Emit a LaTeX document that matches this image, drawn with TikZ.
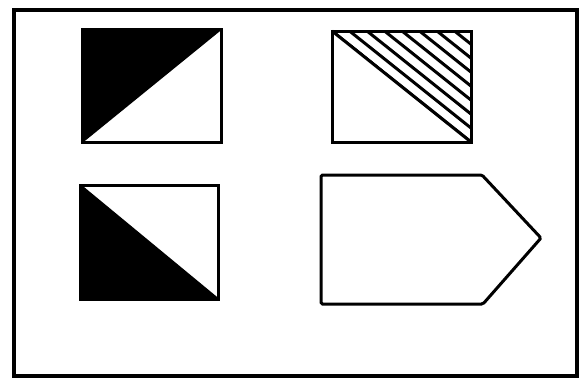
\documentclass[tikz,border=0pt]{standalone}
\usetikzlibrary{calc}
\begin{document}
\begin{tikzpicture}[x=1pt,y=-1pt,
  boxline/.style={draw=black,line width=3pt,line join=miter},
  frameline/.style={draw=black,line width=4pt},
  hatchline/.style={draw=black,line width=3pt}]
\useasboundingbox (0,0) rectangle (581,380);
% outer frame
\draw[frameline] (14,10) rectangle (577,376);
% box 1: upper-left black triangle
\coordinate (a1) at (82,29);
\coordinate (a2) at (221,29);
\coordinate (a3) at (221,142);
\coordinate (a4) at (82,142);
\fill[black] (a1) -- (a2) -- (a4) -- cycle;
\draw[boxline] (a1) -- (a2) -- (a3) -- (a4) -- cycle;
\draw[line width=2pt] (a4) -- (a2);
% box 2: hatched upper-right triangle
\coordinate (b1) at (332,31);
\coordinate (b2) at (471,31);
\coordinate (b3) at (471,142);
\coordinate (b4) at (332,142);
\begin{scope}
  \clip (b1) -- (b2) -- (b3) -- cycle;
  \foreach \k in {0,1,...,7} {
    \draw[hatchline] ($(b1)+(\k*17.5,0)$) -- ($(b3)+(\k*17.5,0)$);
  }
\end{scope}
\draw[hatchline] (b1) -- (b3);
\draw[boxline] (b1) -- (b2) -- (b3) -- (b4) -- cycle;
% box 3: lower-left black triangle
\coordinate (c1) at (80,185);
\coordinate (c2) at (218,185);
\coordinate (c3) at (218,299);
\coordinate (c4) at (80,299);
\fill[black] (c1) -- (c3) -- (c4) -- cycle;
\draw[boxline] (c1) -- (c2) -- (c3) -- (c4) -- cycle;
\draw[line width=2pt] (c1) -- (c3);
% pentagon
\coordinate (p1) at (321,175);
\coordinate (p2) at (482,175);
\coordinate (p3) at (541,238);
\coordinate (p4) at (483,304);
\coordinate (p5) at (321,304);
\draw[boxline,rounded corners=1.5pt] (p1) -- (p2) -- (p3) -- (p4) -- (p5) -- cycle;
\end{tikzpicture}
\end{document}
